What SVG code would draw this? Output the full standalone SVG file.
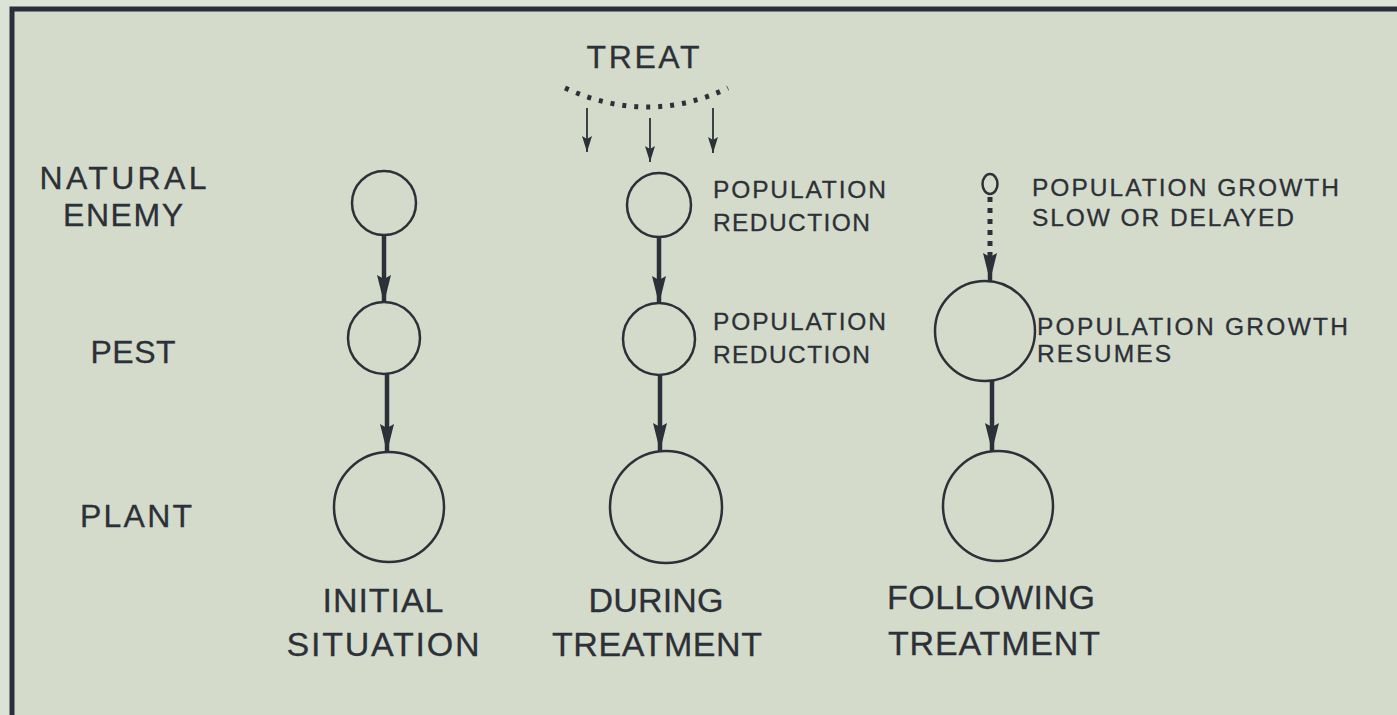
<svg xmlns="http://www.w3.org/2000/svg" width="1397" height="715" viewBox="0 0 1397 715">
  <defs>
    <style>
      .bg { fill: #d5dbca; }
      .frame { stroke: #2a2e3c; stroke-width: 5; fill: none; }
      .node { fill: none; stroke: #2c3038; stroke-width: 2.5; }
      .conn { stroke: #2c3038; stroke-width: 4.5; fill: none; }
      .thin { stroke: #2c3038; stroke-width: 1.8; fill: none; }
      .dots { stroke: #2c3038; stroke-width: 5; fill: none; stroke-dasharray: 4 8; }
      .vdots { stroke: #2c3038; stroke-width: 5; fill: none; stroke-dasharray: 5 6; }
      text { font-family: "Liberation Sans", Arial, sans-serif; fill: #2c3038; stroke: #2c3038; stroke-width: 0.3; }
      .big { font-size: 32px; }
      .cap { font-size: 34px; }
      .small { font-size: 24.5px; }
    </style>
    <marker id="ah" markerUnits="userSpaceOnUse" viewBox="0 0 28 16" refX="28" refY="8" markerWidth="28" markerHeight="16" orient="auto">
      <path d="M0,1 L28,8 L0,15 L4,8 z" fill="#2c3038"/>
    </marker>
    <marker id="ahs" markerUnits="userSpaceOnUse" viewBox="0 0 16 10" refX="16" refY="5" markerWidth="16" markerHeight="10" orient="auto">
      <path d="M0,0 L16,5 L0,10 L3,5 z" fill="#2c3038"/>
    </marker>
  </defs>

  <rect x="0" y="0" width="1397" height="715" fill="#dde2d6"/>
  <rect class="bg" x="12" y="9" width="1385" height="706"/>
  <path class="frame" d="M12,715 L12,9 L1397,9"/>

  <g id="row-labels">
    <text class="big" x="123" y="189" text-anchor="middle" textLength="167" lengthAdjust="spacing">NATURAL</text>
    <text class="big" x="123" y="226" text-anchor="middle" textLength="120" lengthAdjust="spacing">ENEMY</text>
    <text class="big" x="133" y="363" text-anchor="middle" textLength="85" lengthAdjust="spacing">PEST</text>
    <text class="big" x="136" y="527" text-anchor="middle" textLength="112" lengthAdjust="spacing">PLANT</text>
  </g>

  <g id="treat">
    <text class="big" x="643" y="68" text-anchor="middle" textLength="113" lengthAdjust="spacing">TREAT</text>
    <path class="dots" d="M565,88 Q648,126 728,88"/>
  </g>

  <g id="col1-enemy"><circle class="node" cx="384" cy="203" r="32"/></g>
  <g id="col1-pest"><circle class="node" cx="384" cy="338" r="36"/></g>
  <g id="col1-plant"><circle class="node" cx="389" cy="507" r="55"/></g>
  <g id="col1-label">
    <text class="cap" x="383" y="612" text-anchor="middle" textLength="121" lengthAdjust="spacing">INITIAL</text>
    <text class="cap" x="383" y="656" text-anchor="middle" textLength="193" lengthAdjust="spacing">SITUATION</text>
  </g>

  <g id="col2-enemy">
    <circle class="node" cx="659" cy="205" r="32"/>
    <text class="small" x="713" y="198" textLength="173" lengthAdjust="spacing">POPULATION</text>
    <text class="small" x="713" y="231" textLength="157" lengthAdjust="spacing">REDUCTION</text>
  </g>
  <g id="col2-pest">
    <circle class="node" cx="659" cy="339" r="36"/>
    <text class="small" x="713" y="330" textLength="173" lengthAdjust="spacing">POPULATION</text>
    <text class="small" x="713" y="363" textLength="157" lengthAdjust="spacing">REDUCTION</text>
  </g>
  <g id="col2-plant"><circle class="node" cx="666" cy="507" r="56"/></g>
  <g id="col2-label">
    <text class="cap" x="656" y="612" text-anchor="middle" textLength="135" lengthAdjust="spacing">DURING</text>
    <text class="cap" x="657" y="656" text-anchor="middle" textLength="210" lengthAdjust="spacing">TREATMENT</text>
  </g>

  <g id="col3-enemy">
    <ellipse class="node" cx="990" cy="184" rx="7.5" ry="10"/>
    <text class="small" x="1032" y="196" textLength="307" lengthAdjust="spacing">POPULATION GROWTH</text>
    <text class="small" x="1032" y="226" textLength="262" lengthAdjust="spacing">SLOW OR DELAYED</text>
  </g>
  <g id="col3-pest">
    <circle class="node" cx="985" cy="331" r="50"/>
    <text class="small" x="1037" y="335" textLength="311" lengthAdjust="spacing">POPULATION GROWTH</text>
    <text class="small" x="1037" y="362" textLength="134" lengthAdjust="spacing">RESUMES</text>
  </g>
  <g id="col3-plant"><circle class="node" cx="998" cy="506" r="55"/></g>
  <g id="col3-label">
    <text class="cap" x="991" y="609" text-anchor="middle" textLength="208" lengthAdjust="spacing">FOLLOWING</text>
    <text class="cap" x="994" y="655" text-anchor="middle" textLength="212" lengthAdjust="spacing">TREATMENT</text>
  </g>

  <g id="connectors">
    <line class="thin" x1="587" y1="108" x2="587" y2="152" marker-end="url(#ahs)"/>
    <line class="thin" x1="650" y1="118" x2="650" y2="162" marker-end="url(#ahs)"/>
    <line class="thin" x1="713" y1="108" x2="713" y2="153" marker-end="url(#ahs)"/>

    <line class="conn" x1="384" y1="235" x2="384" y2="303" marker-end="url(#ah)"/>
    <line class="conn" x1="387" y1="374" x2="387" y2="452" marker-end="url(#ah)"/>

    <line class="conn" x1="659" y1="237" x2="659" y2="304" marker-end="url(#ah)"/>
    <line class="conn" x1="660" y1="375" x2="660" y2="451" marker-end="url(#ah)"/>

    <line class="vdots" x1="990" y1="197" x2="990" y2="258"/>
    <line class="conn" x1="990" y1="256" x2="990" y2="281" marker-end="url(#ah)"/>
    <line class="conn" x1="992" y1="381" x2="992" y2="451" marker-end="url(#ah)"/>
  </g>
</svg>
